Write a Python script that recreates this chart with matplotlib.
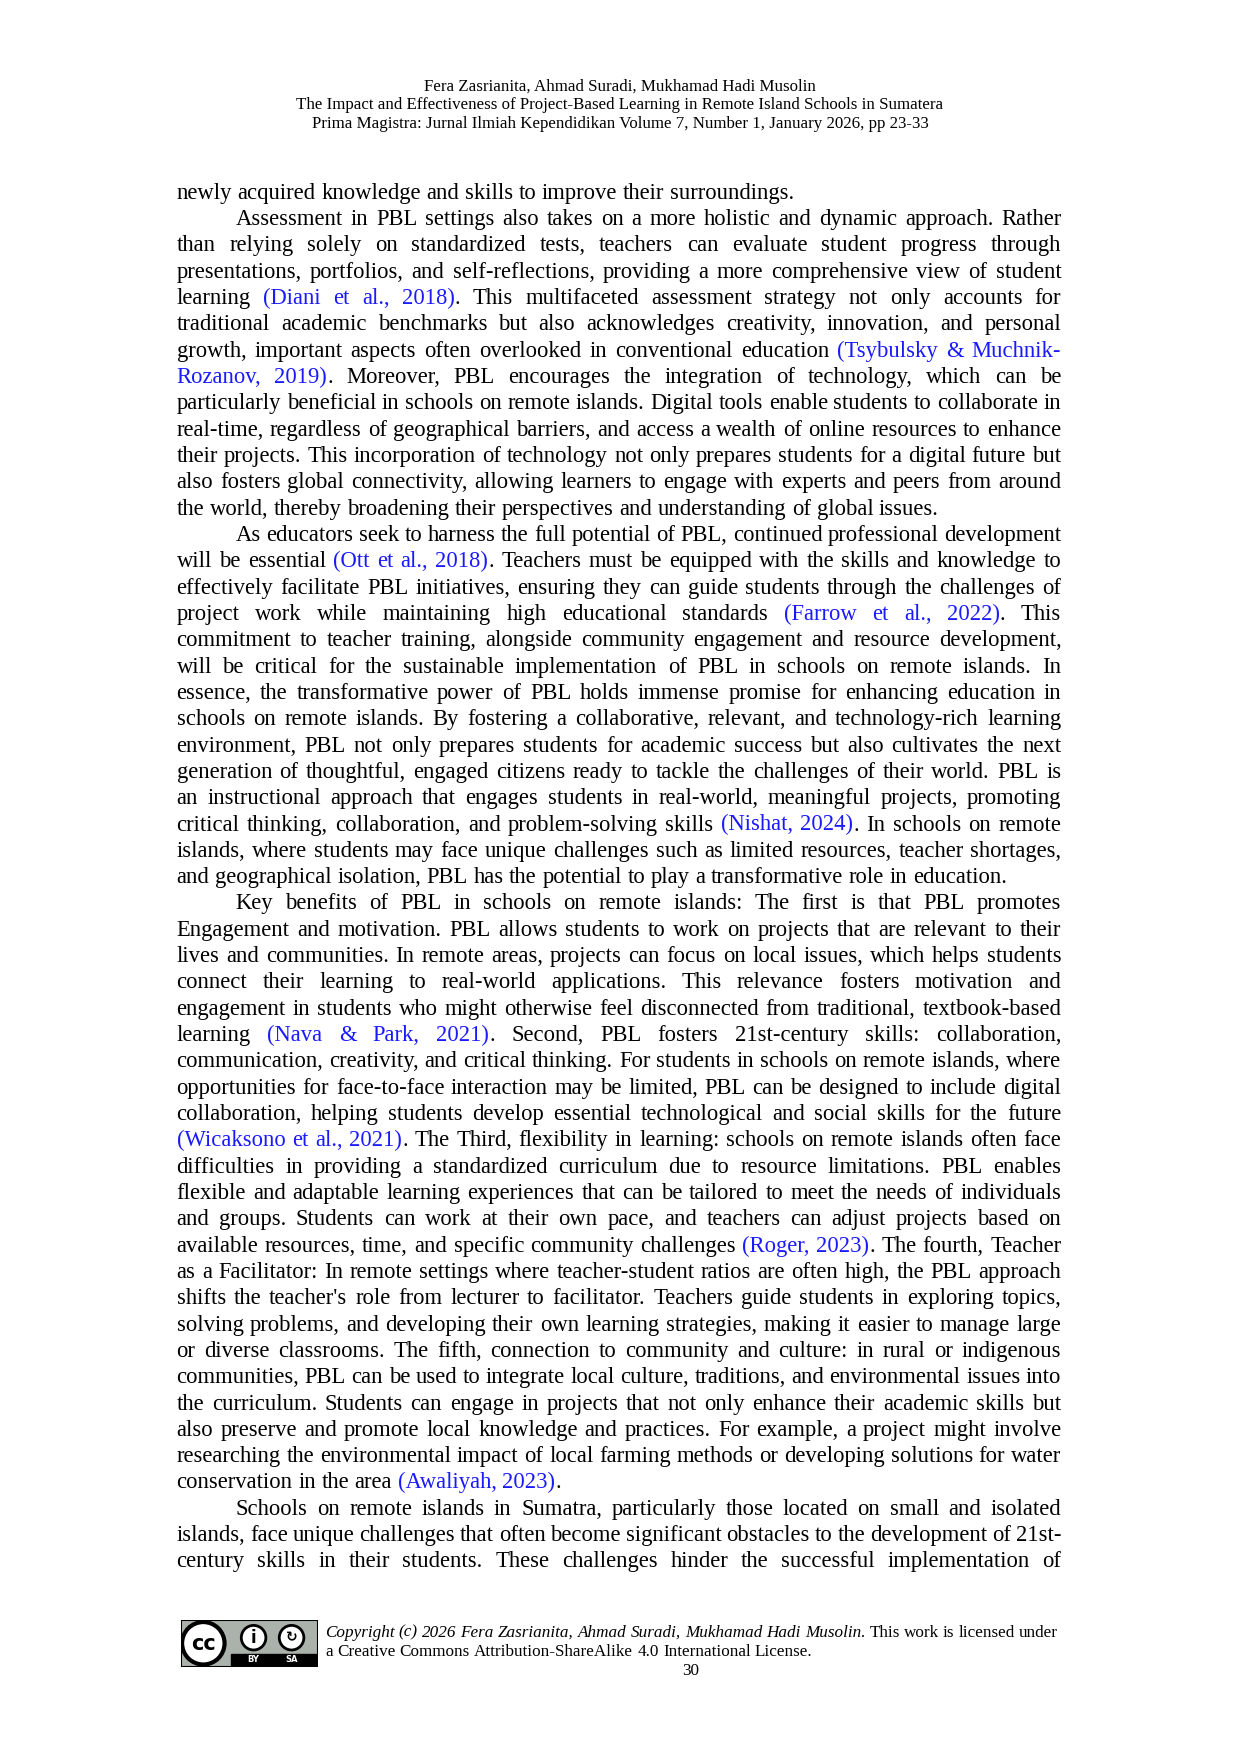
import matplotlib
matplotlib.use("Agg")
import matplotlib.pyplot as plt
from matplotlib.patches import FancyBboxPatch, Circle

W, H = 1240, 1754
S = 1240 / 1110.0
fig = plt.figure(figsize=(12.4, 17.54), dpi=100)
fig.patch.set_facecolor("white")
FONT = "Liberation Serif"
BLUE = "#1a1aff"

header = [
    "Fera Zasrianita, Ahmad Suradi, Mukhamad Hadi Musolin",
    "The Impact and Effectiveness of Project-Based Learning in Remote Island Schools in Sumatera",
    "Prima Magistra: Jurnal Ilmiah Kependidikan Volume 7, Number 1, January 2026, pp 23-33",
]

# (indent, justified, text)  {...} marks blue citation text
body = [
    (0, 0, "newly acquired knowledge and skills to improve their surroundings."),
    (1, 1, "Assessment in PBL settings also takes on a more holistic and dynamic approach. Rather"),
    (0, 1, "than relying solely on standardized tests, teachers can evaluate student progress through"),
    (0, 1, "presentations, portfolios, and self-reflections, providing a more comprehensive view of student"),
    (0, 1, "learning {(Diani et al., 2018)}. This multifaceted assessment strategy not only accounts for"),
    (0, 1, "traditional academic benchmarks but also acknowledges creativity, innovation, and personal"),
    (0, 1, "growth, important aspects often overlooked in conventional education {(Tsybulsky & Muchnik-}"),
    (0, 1, "{Rozanov, 2019)}.  Moreover, PBL encourages the integration of technology, which can be"),
    (0, 1, "particularly beneficial in schools on remote islands. Digital tools enable students to collaborate in"),
    (0, 1, "real-time, regardless of geographical barriers, and access a wealth of online resources to enhance"),
    (0, 1, "their projects. This incorporation of technology not only prepares students for a digital future but"),
    (0, 1, "also fosters global connectivity, allowing learners to engage with experts and peers from around"),
    (0, 0, "the world, thereby broadening their perspectives and understanding of global issues."),
    (1, 1, "As educators seek to harness the full potential of PBL, continued professional development"),
    (0, 1, "will be essential {(Ott et al., 2018)}. Teachers must be equipped with the skills and knowledge to"),
    (0, 1, "effectively facilitate PBL initiatives, ensuring they can guide students through the challenges of"),
    (0, 1, "project work while maintaining high educational standards {(Farrow et al., 2022)}. This"),
    (0, 1, "commitment to teacher training, alongside community engagement and resource development,"),
    (0, 1, "will be critical for the sustainable implementation of PBL in schools on remote islands.  In"),
    (0, 1, "essence, the transformative power of PBL holds immense promise for enhancing education in"),
    (0, 1, "schools on remote islands. By fostering a collaborative, relevant, and technology-rich learning"),
    (0, 1, "environment, PBL not only prepares students for academic success but also cultivates the next"),
    (0, 1, "generation of thoughtful, engaged citizens ready to tackle the challenges of their world. PBL is"),
    (0, 1, "an instructional approach that engages students in real-world, meaningful projects, promoting"),
    (0, 1, "critical thinking, collaboration, and problem-solving skills {(Nishat, 2024)}. In schools on remote"),
    (0, 1, "islands, where students may face unique challenges such as limited resources, teacher shortages,"),
    (0, 0, "and geographical isolation, PBL has the potential to play a transformative role in education."),
    (1, 1, "Key benefits of PBL in schools on remote islands: The first is that PBL promotes"),
    (0, 1, "Engagement and motivation. PBL allows students to work on projects that are relevant to their"),
    (0, 1, "lives and communities. In remote areas, projects can focus on local issues, which helps students"),
    (0, 1, "connect their learning to real-world applications. This relevance fosters motivation and"),
    (0, 1, "engagement in students who might otherwise feel disconnected from traditional, textbook-based"),
    (0, 1, "learning {(Nava & Park, 2021)}. Second, PBL fosters 21st-century skills: collaboration,"),
    (0, 1, "communication, creativity, and critical thinking. For students in schools on remote islands, where"),
    (0, 1, "opportunities for face-to-face interaction may be limited, PBL can be designed to include digital"),
    (0, 1, "collaboration, helping students develop essential technological and social skills for the future"),
    (0, 1, "{(Wicaksono et al., 2021)}. The Third, flexibility in learning: schools on remote islands often face"),
    (0, 1, "difficulties in providing a standardized curriculum due to resource limitations. PBL enables"),
    (0, 1, "flexible and adaptable learning experiences that can be tailored to meet the needs of individuals"),
    (0, 1, "and groups. Students can work at their own pace, and teachers can adjust projects based on"),
    (0, 1, "available resources, time, and specific community challenges {(Roger, 2023)}. The fourth, Teacher"),
    (0, 1, "as a Facilitator: In remote settings where teacher-student ratios are often high, the PBL approach"),
    (0, 1, "shifts the teacher's role from lecturer to facilitator. Teachers guide students in exploring topics,"),
    (0, 1, "solving problems, and developing their own learning strategies, making it easier to manage large"),
    (0, 1, "or diverse classrooms. The fifth, connection to community and culture: in rural or indigenous"),
    (0, 1, "communities, PBL can be used to integrate local culture, traditions, and environmental issues into"),
    (0, 1, "the curriculum. Students can engage in projects that not only enhance their academic skills but"),
    (0, 1, "also preserve and promote local knowledge and practices. For example, a project might involve"),
    (0, 1, "researching the environmental impact of local farming methods or developing solutions for water"),
    (0, 0, "conservation in the area {(Awaliyah, 2023)}."),
    (1, 1, "Schools on remote islands in Sumatra, particularly those located on small and isolated"),
    (0, 1, "islands, face unique challenges that often become significant obstacles to the development of 21st-"),
    (0, 1, "century skills in their students. These challenges hinder the successful implementation of"),
]

footer1_italic = "Copyright (c) 2026 Fera Zasrianita, Ahmad Suradi, Mukhamad Hadi Musolin."
footer1_normal = "This work is licensed under"
footer2 = "a Creative Commons Attribution-ShareAlike 4.0 International License."
page_no = "30"

fig.canvas.draw()
R = fig.canvas.get_renderer()

def fy(y): return 1 - y * S / H

def width(txt, size, style="normal"):
    t = fig.text(0, 0, txt, fontsize=size, family=FONT, style=style)
    w = t.get_window_extent(R).width
    t.remove()
    return w

def parse(line):
    """Return list of words; each word is a list of (segment, color, style)."""
    words = []
    blue = False
    for w in line.split():
        segs = []
        cur = ""
        for ch in w:
            if ch in "{}":
                if cur:
                    segs.append((cur, BLUE if blue else "black", "normal"))
                cur = ""
                blue = (ch == "{")
            else:
                cur += ch
        if cur:
            segs.append((cur, BLUE if blue else "black", "normal"))
        words.append(segs)
    return words

def draw_line(words, x0, x1, y, size, justify):
    ws = [width("".join(s for s, c, st in segs), size, segs[0][2]) for segs in words]
    sp = width("a b", size) - width("ab", size)
    xl, xr = x0 * S, x1 * S
    gap = (xr - xl - sum(ws)) / (len(words) - 1) if (justify and len(words) > 1) else sp
    x = xl
    for segs, wd in zip(words, ws):
        xs = x
        for s, c, st in segs:
            fig.text(xs / W, fy(y), s, fontsize=size, family=FONT, color=c, style=st, va="baseline")
            xs += width(s, size, st)
        x += wd + gap

for i, h in enumerate(header):
    fig.text(555 * S / W, fy(81 + 17 * i), h, fontsize=12.2, family=FONT, ha="center", va="baseline")

LEFT, RIGHT, IND = 158, 950, 211
for i, (ind, just, line) in enumerate(body):
    draw_line(parse(line), IND if ind else LEFT, RIGHT, 178 + i * 23.56, 16.3, just)

fw = [[(w, "black", "italic")] for w in footer1_italic.split()] + [[(w, "black", "normal")] for w in footer1_normal.split()]
draw_line(fw, 291, 947, 1465, 12.3, True)
draw_line([[(w, "black", "normal")] for w in footer2.split()], 291, 947, 1482, 12.3, False)
fig.text(618 * S / W, fy(1499), page_no, fontsize=12.3, family=FONT, ha="center", va="baseline")

# CC BY-SA badge
ax = fig.add_axes([162 * S / W, fy(1492), (285 - 162) * S / W, (1492 - 1450) * S / H])
ax.set_xlim(0, 123); ax.set_ylim(0, 42); ax.axis("off")
ax.add_patch(FancyBboxPatch((0, 0), 123, 42, boxstyle="square,pad=0", fc="#aab2ab", ec="black", lw=1.5))
ax.add_patch(FancyBboxPatch((45, 2), 76, 9, boxstyle="square,pad=0", fc="black", ec="black"))
ax.add_patch(Circle((20, 21), 19, fc="white", ec="black", lw=3))
ax.text(20, 20, "cc", fontsize=15, fontweight="bold", ha="center", va="center", family="DejaVu Sans")
ax.add_patch(Circle((65, 26), 11, fc="white", ec="black", lw=2))
ax.text(65, 26, "i", fontsize=12, fontweight="bold", ha="center", va="center", family="DejaVu Sans")
ax.add_patch(Circle((99, 26), 11, fc="white", ec="black", lw=2))
ax.text(99, 26, "↻", fontsize=10, fontweight="bold", ha="center", va="center", family="DejaVu Sans")
ax.text(65, 6.5, "BY", fontsize=6, color="white", ha="center", va="center", fontweight="bold")
ax.text(99, 6.5, "SA", fontsize=6, color="white", ha="center", va="center", fontweight="bold")

fig.savefig("out.png", dpi=100)
